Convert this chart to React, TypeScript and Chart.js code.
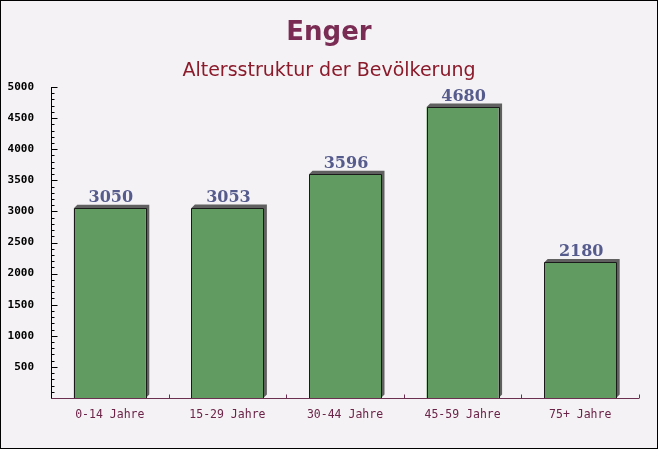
import React, { useEffect, useRef } from "react";
import { Chart, registerables } from "chart.js";

Chart.register(...registerables);

const categories = ["0-14 Jahre", "15-29 Jahre", "30-44 Jahre", "45-59 Jahre", "75+ Jahre"];
const values = [3050, 3053, 3596, 4680, 2180];
const yTicks = [500, 1000, 1500, 2000, 2500, 3000, 3500, 4000, 4500, 5000];
const titleText = "Enger";
const subtitleText = "Altersstruktur der Bevölkerung";

const W = 658;
const H = 449;

const decorPlugin = {
  id: "decor",
  beforeDraw(chart: any) {
    const ctx = chart.ctx;
    ctx.save();
    ctx.fillStyle = "#f4f2f4";
    ctx.fillRect(0, 0, W, H);
    ctx.restore();
  },
  afterDatasetsDraw(chart: any) {
    const ctx = chart.ctx;
    const meta = chart.getDatasetMeta(0);
    const yScale = chart.scales.y;
    const xScale = chart.scales.x;
    const area = chart.chartArea;
    ctx.save();
    meta.data.forEach((bar: any, i: number) => {
      const half = bar.width / 2;
      const x0 = bar.x - half;
      const x1 = bar.x + half;
      const top = bar.y;
      const bottom = bar.base;
      const d = 3.5;
      ctx.fillStyle = "#606060";
      ctx.beginPath();
      ctx.moveTo(x0, top);
      ctx.lineTo(x0 + d, top - d);
      ctx.lineTo(x1 + d, top - d);
      ctx.lineTo(x1 + d, bottom - d);
      ctx.lineTo(x1, bottom);
      ctx.lineTo(x1, top);
      ctx.closePath();
      ctx.fill();
      ctx.strokeStyle = "#1a1a1a";
      ctx.lineWidth = 1;
      ctx.beginPath();
      ctx.moveTo(Math.round(x0) + 0.5, bottom);
      ctx.lineTo(Math.round(x0) + 0.5, Math.round(top) + 0.5);
      ctx.lineTo(Math.round(x1) + 0.5, Math.round(top) + 0.5);
      ctx.lineTo(Math.round(x1) + 0.5, bottom);
      ctx.stroke();

      ctx.fillStyle = "#555b8c";
      ctx.font = "bold 16px 'DejaVu Serif'";
      ctx.textAlign = "center";
      ctx.textBaseline = "alphabetic";
      ctx.fillText(String(values[i]), bar.x + 1, top - 6);
    });

    const ax = Math.round(area.left) + 0.5;
    ctx.strokeStyle = "#000";
    ctx.lineWidth = 1;
    ctx.beginPath();
    ctx.moveTo(ax, area.top);
    ctx.lineTo(ax, area.bottom);
    for (let v = 100; v <= 5000; v += 100) {
      const py = Math.round(yScale.getPixelForValue(v)) + 0.5;
      const len = v % 500 === 0 ? 6 : 3;
      ctx.moveTo(ax, py);
      ctx.lineTo(ax + len, py);
    }
    ctx.stroke();

    const by = Math.round(area.bottom) + 0.5;
    ctx.strokeStyle = "#6b3050";
    ctx.beginPath();
    ctx.moveTo(area.left, by);
    ctx.lineTo(area.right, by);
    for (let i = 1; i <= categories.length; i++) {
      const px = Math.round(xScale.getPixelForValue(i - 0.5)) + 0.5;
      ctx.moveTo(px, by);
      ctx.lineTo(px, by - 4);
    }
    ctx.stroke();

    ctx.textAlign = "center";
    ctx.textBaseline = "alphabetic";
    ctx.fillStyle = "#7b2c54";
    ctx.font = "bold 26px 'DejaVu Sans'";
    ctx.fillText(titleText, W / 2, 40);
    ctx.fillStyle = "#8b1a2b";
    ctx.font = "19px 'DejaVu Sans'";
    ctx.fillText(subtitleText, W / 2, 76);

    ctx.strokeStyle = "#000";
    ctx.strokeRect(0.5, 0.5, W - 1, H - 1);
    ctx.restore();
  },
};

export default function App() {
  const ref = useRef<HTMLCanvasElement>(null);
  useEffect(() => {
    document.body.style.margin = "0";
    const chart = new Chart(ref.current!, {
      type: "bar",
      data: {
        labels: categories,
        datasets: [
          {
            data: values,
            backgroundColor: "#619b61",
            borderWidth: 0,
            barPercentage: 0.612,
            categoryPercentage: 1,
          },
        ],
      },
      options: {
        animation: false,
        responsive: false,
        layout: { padding: { top: 87, right: 19, left: 0, bottom: 0 } },
        plugins: { legend: { display: false }, tooltip: { enabled: false } },
        scales: {
          x: {
            grid: { display: false },
            border: { display: false },
            ticks: {
              color: "#6b2448",
              font: { family: "'DejaVu Sans Mono'", size: 11.5 },
              padding: 2,
            },
            afterFit(scale: any) {
              scale.height = 51;
            },
          },
          y: {
            min: 0,
            max: 5000,
            grid: { display: false },
            border: { display: false },
            afterBuildTicks(scale: any) {
              scale.ticks = yTicks.map((v) => ({ value: v }));
            },
            ticks: {
              color: "#000",
              font: { family: "'DejaVu Sans Mono'", size: 11, weight: "bold" },
              padding: 9,
              callback: (v: any) => String(v),
            },
            afterFit(scale: any) {
              scale.width = 51;
            },
          },
        },
      },
      plugins: [decorPlugin],
    });
    return () => chart.destroy();
  }, []);
  return <canvas ref={ref} width={W} height={H} style={{ display: "block" }} />;
}
